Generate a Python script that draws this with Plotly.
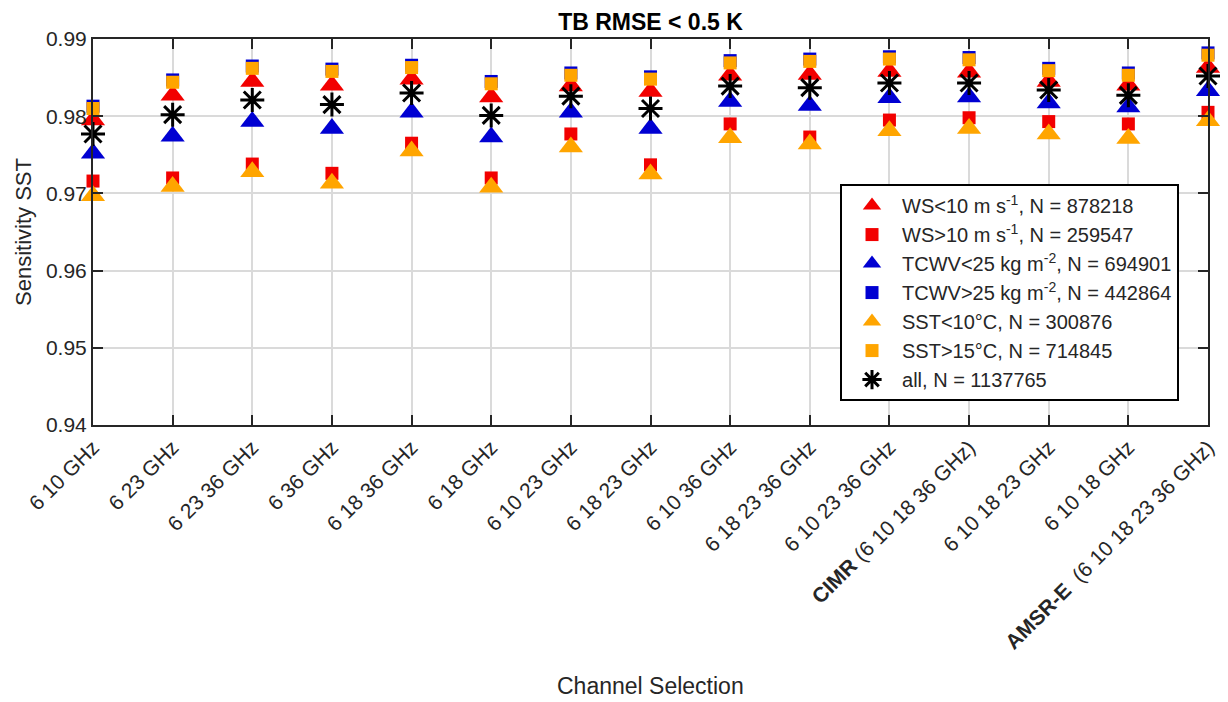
import plotly.graph_objects as go

# Channel combinations on the x axis
channels = [
    "6 10 GHz", "6 23 GHz", "6 23 36 GHz", "6 36 GHz", "6 18 36 GHz",
    "6 18 GHz", "6 10 23 GHz", "6 18 23 GHz", "6 10 36 GHz",
    "6 18 23 36 GHz", "6 10 23 36 GHz", "<b>CIMR</b> (6 10 18 36 GHz)",
    "6 10 18 23 GHz", "6 10 18 GHz", "<b>AMSR-E</b>  (6 10 18 23 36 GHz)",
]

# SST sensitivity per subset
ws_low = [0.9795, 0.9827, 0.9845, 0.9840, 0.9848, 0.9825, 0.9839, 0.9832,
          0.9853, 0.9854, 0.9858, 0.9857, 0.9845, 0.9840, 0.9863]
ws_high = [0.9716, 0.9720, 0.9738, 0.9726, 0.9765, 0.9720, 0.9777, 0.9737,
           0.9790, 0.9773, 0.9795, 0.9798, 0.9793, 0.9790, 0.9805]
tcwv_low = [0.9752, 0.9774, 0.9793, 0.9784, 0.9805, 0.9773, 0.9805, 0.9784,
            0.9819, 0.9814, 0.9824, 0.9825, 0.9817, 0.9812, 0.9833]
tcwv_high = [0.9813, 0.9847, 0.9865, 0.9861, 0.9866, 0.9845, 0.9856, 0.9851,
             0.9872, 0.9874, 0.9877, 0.9876, 0.9862, 0.9856, 0.9882]
sst_cold = [0.9697, 0.9709, 0.9728, 0.9713, 0.9755, 0.9708, 0.9760, 0.9725,
            0.9772, 0.9764, 0.9781, 0.9784, 0.9777, 0.9771, 0.9794]
sst_warm = [0.9810, 0.9844, 0.9862, 0.9858, 0.9863, 0.9842, 0.9853, 0.9848,
            0.9869, 0.9871, 0.9874, 0.9873, 0.9859, 0.9853, 0.9879]
all_obs = [0.9777, 0.9802, 0.9821, 0.9815, 0.9830, 0.9801, 0.9826, 0.9810,
           0.9839, 0.9837, 0.9843, 0.9843, 0.9834, 0.9827, 0.9852]

y_ticks = [0.94, 0.95, 0.96, 0.97, 0.98, 0.99]

RED = "#f20000"
BLUE = "#0000d2"
ORANGE = "#ffa500"
INK = "#262626"
FONT = "Liberation Sans, Arial, Helvetica, sans-serif"

x = list(range(1, len(channels) + 1))

series = [
    ("WS<10 m s<sup>-1</sup>, N = 878218", ws_low, "triangle-up", RED, 21),
    ("WS>10 m s<sup>-1</sup>, N = 259547", ws_high, "square", RED, 13),
    ("TCWV<25 kg m<sup>-2</sup>, N = 694901", tcwv_low, "triangle-up", BLUE, 21),
    ("TCWV>25 kg m<sup>-2</sup>, N = 442864", tcwv_high, "square", BLUE, 13),
    ("SST<10°C, N = 300876", sst_cold, "triangle-up", ORANGE, 21),
    ("SST>15°C, N = 714845", sst_warm, "square", ORANGE, 13),
]

fig = go.Figure()
for name, vals, sym, col, size in series:
    fig.add_trace(go.Scatter(
        x=x, y=vals, mode="markers", name=name, cliponaxis=False,
        marker=dict(symbol=sym, size=size, color=col, line=dict(width=0)),
    ))

fig.add_trace(go.Scatter(
    x=x, y=all_obs, mode="markers", name="all, N = 1137765", cliponaxis=False,
    marker=dict(symbol="asterisk-open", size=20, color="black",
                line=dict(width=3, color="black")),
))

# plot area spans 93..1208 px horizontally and 39..425 px vertically
fig.update_layout(
    width=1228, height=702,
    margin=dict(l=93, r=20, t=39, b=277, autoexpand=False),
    paper_bgcolor="white", plot_bgcolor="white",
    font=dict(family=FONT, color=INK, size=21),
    title=dict(text="<b>TB RMSE < 0.5 K</b>", x=(93 + 1208) / 2 / 1228,
               xanchor="center", y=1 - 22 / 702, yanchor="middle",
               font=dict(size=23, color="black", family=FONT)),
    showlegend=True,
    legend=dict(
        x=0.974, xanchor="right", y=0.062, yanchor="bottom",
        bgcolor="white", bordercolor="black", borderwidth=2,
        font=dict(size=20, color=INK, family=FONT),
        itemwidth=50, tracegroupgap=0,
    ),
    annotations=[dict(
        text="Channel Selection", xref="paper", yref="paper",
        x=0.5, y=(425 - 701) / 386, xanchor="center", yanchor="bottom",
        showarrow=False, font=dict(size=23, color=INK, family=FONT),
    )],
)

fig.update_xaxes(
    range=[1, 15], tickmode="array", tickvals=x, ticktext=channels,
    tickangle=-45, ticks="inside", ticklen=10, tickwidth=2, tickcolor=INK,
    showline=True, linecolor=INK, linewidth=2, mirror="ticks",
    showgrid=True, gridcolor="#dadada", gridwidth=1.5, zeroline=False,
    tickfont=dict(size=21, color=INK), automargin=False,
)
fig.update_yaxes(
    range=[0.94, 0.99], tickmode="array", tickvals=y_ticks,
    ticktext=[f"{v:.2f}" for v in y_ticks],
    ticks="inside", ticklen=10, tickwidth=2, tickcolor=INK,
    showline=True, linecolor=INK, linewidth=2, mirror="ticks",
    showgrid=True, gridcolor="#dadada", gridwidth=1.5, zeroline=False,
    tickfont=dict(size=21, color=INK), automargin=False,
    title=dict(text="Sensitivity SST", font=dict(size=22, color=INK), standoff=8),
)

fig.write_html("out.html")
